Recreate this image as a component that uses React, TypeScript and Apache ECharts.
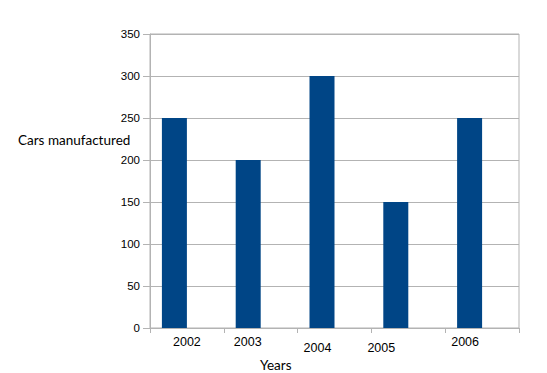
import React, { useEffect, useRef } from "react";
import * as echarts from "echarts";

const years = ["2002", "2003", "2004", "2005", "2006"];
const carsManufactured = [250, 200, 300, 150, 250];
const yTicks = { min: 0, max: 350, interval: 50 };
const yTitle = "Cars manufactured";
const xTitle = "Years";

// per-label visual offsets seen in the reference (dx, dy in px)
const labelShift: [number, number][] = [
  [0, 0],
  [-13, 0],
  [-17, 3],
  [-27, 3],
  [-17, 0],
];

export default function App() {
  const ref = useRef<HTMLDivElement>(null);
  useEffect(() => {
    if (!ref.current) return;
    const chart = echarts.init(ref.current, null, { renderer: "svg" });
    const rich: Record<string, any> = {};
    labelShift.forEach(([dx, dy], i) => {
      rich["l" + i] = {
        fontFamily: "Liberation Sans",
        fontSize: 12.5,
        color: "#000",
        padding: [dy * 2, dx > 0 ? 0 : -dx * 2, 0, dx > 0 ? dx * 2 : 0],
      };
    });
    chart.setOption({
      animation: false,
      backgroundColor: "#fff",
      grid: {
        left: 150,
        right: 28,
        top: 34,
        bottom: 45,
        show: true,
        borderColor: "#b3b3b3",
        borderWidth: 1,
        backgroundColor: "transparent",
      },
      xAxis: {
        type: "category",
        data: years,
        boundaryGap: true,
        axisLine: { show: true, lineStyle: { color: "#b3b3b3", width: 1 } },
        axisTick: { show: true, length: 5, alignWithLabel: false, lineStyle: { color: "#b3b3b3" } },
        axisLabel: {
          margin: 7,
          formatter: (v: string, i: number) => `{l${i}|${v}}`,
          rich,
        },
        splitLine: { show: false },
      },
      yAxis: {
        type: "value",
        min: yTicks.min,
        max: yTicks.max,
        interval: yTicks.interval,
        axisLine: { show: true, lineStyle: { color: "#b3b3b3", width: 1 } },
        axisTick: { show: true, length: 7, lineStyle: { color: "#b3b3b3" } },
        axisLabel: {
          margin: 10,
          fontFamily: "Liberation Sans",
          fontSize: 11.5,
          color: "#000",
        },
        splitLine: { show: true, lineStyle: { color: "#b3b3b3", width: 1 } },
      },
      series: [
        {
          type: "bar",
          data: carsManufactured,
          barWidth: 25,
          barGap: "0%",
          itemStyle: { color: "#004586" },
        },
        {
          type: "bar",
          data: carsManufactured.map(() => null),
          barWidth: 25,
          barGap: "0%",
          itemStyle: { color: "#ff420e" },
        },
      ],
      graphic: [
        {
          type: "text",
          left: 18,
          top: 133,
          style: {
            text: yTitle,
            font: "13.5px Lato",
            fill: "#000",
          },
        },
        {
          type: "text",
          left: 260,
          top: 358,
          style: {
            text: xTitle,
            font: "13.5px Lato",
            fill: "#000",
          },
        },
      ],
    });
    return () => chart.dispose();
  }, []);
  return <div ref={ref} style={{ width: 547, height: 373, position: "absolute", left: 0, top: 0 }} />;
}
